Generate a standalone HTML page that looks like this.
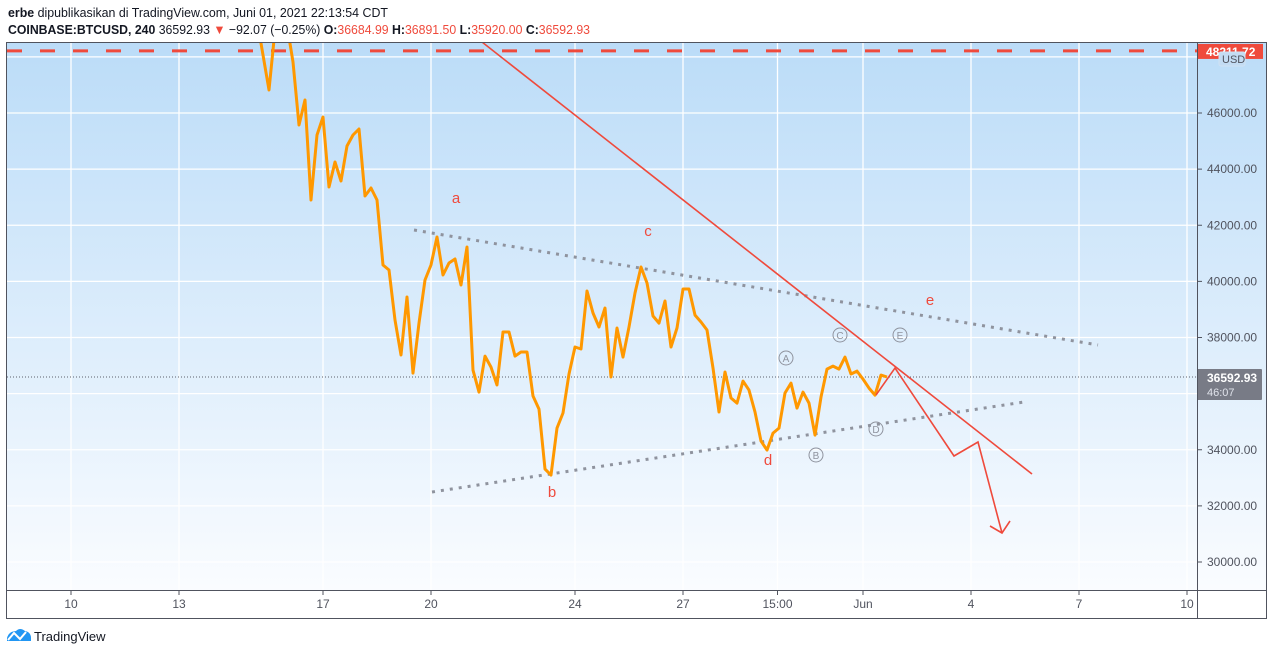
<!DOCTYPE html>
<html><head><meta charset="utf-8">
<style>
body{margin:0;background:#fff;width:1274px;height:655px;overflow:hidden;font-family:"Liberation Sans",sans-serif}
svg text{font-family:"Liberation Sans",sans-serif}
</style></head>
<body>
<svg width="1274" height="655" xmlns="http://www.w3.org/2000/svg">
<defs>
<linearGradient id="bg" x1="0" y1="0" x2="0" y2="1">
<stop offset="0" stop-color="#bbdcf8"/><stop offset="1" stop-color="#fafcff"/>
</linearGradient>
<clipPath id="pc"><rect x="7" y="42" width="1190" height="548"/></clipPath>
</defs>
<text x="8" y="17" font-size="13" fill="#131722" textLength="380" lengthAdjust="spacingAndGlyphs"><tspan font-weight="bold">erbe</tspan> dipublikasikan di TradingView.com, Juni 01, 2021 22:13:54 CDT</text>
<text x="8" y="34" font-size="13" fill="#131722" textLength="582" lengthAdjust="spacingAndGlyphs"><tspan font-weight="bold">COINBASE:BTCUSD, 240</tspan> 36592.93 <tspan fill="#ef4a3c">▼</tspan> −92.07 (−0.25%) <tspan font-weight="bold">O:</tspan><tspan fill="#ef4a3c">36684.99</tspan> <tspan font-weight="bold">H:</tspan><tspan fill="#ef4a3c">36891.50</tspan> <tspan font-weight="bold">L:</tspan><tspan fill="#ef4a3c">35920.00</tspan> <tspan font-weight="bold">C:</tspan><tspan fill="#ef4a3c">36592.93</tspan></text>
<rect x="7" y="42" width="1260" height="548" fill="url(#bg)"/>
<g id="grid"></g>
<g id="marks" clip-path="url(#pc)"></g>
<g id="axes"></g>
<rect x="6.5" y="42.5" width="1260" height="576" fill="none" stroke="#50535e" stroke-width="1"/>
<line x1="7" y1="590.5" x2="1267" y2="590.5" stroke="#50535e"/>
<line x1="1197.5" y1="42" x2="1197.5" y2="618" stroke="#50535e"/>
<g>
<path d="M7,641 L7,638 Q9,631 16,631 Q20,627 25,631 Q31,632 31,638 L31,641 Z" fill="#2196f3"/>
<polyline points="8,640 14,633 20,639 26,632" fill="none" stroke="#fff" stroke-width="2"/>
<text x="34" y="641" font-size="13" fill="#131722">TradingView</text>
</g>
</svg>
<script>
const startHour = 124; // hours after May 10 00:00
const prices = [49314,48067,46819,48958,49314,49136,47817,45572,46463,42899,45216,45857,43362,44253,43576,44824,45216,45429,43042,43327,42899,40582,40404,38622,37375,39442,36733,38515,40048,40582,41580,40226,40654,40796,39870,41224,36840,36056,37339,36947,36306,38195,38195,37339,37482,37482,35914,35450,33312,33098,34773,35308,36698,37660,37589,39656,38872,38373,39050,36591,38337,37303,38373,39585,40511,39941,38765,38515,39300,37660,38337,39727,39727,38800,38551,38266,36912,35344,36770,35843,35664,36448,36127,35344,34310,33989,34595,34773,36021,36377,35486,36056,35664,34524,35878,36875,36982,36875,37303,36698,36804,36519,36198,35949,36662,36593];
const priceTicks = [30000,32000,34000,36000,38000,40000,42000,44000,46000,48000];
const timeTickDays = [0,3,7,10,14,17,19.625,22,25,28,31];
const timeTickLabels = ["10","13","17","20","24","27","15:00","Jun","4","7","10"];
const lastPrice = 36592.93;
const lineLevel = 48211.72;
const NS="http://www.w3.org/2000/svg";
const yS = p => 113 + (46000 - p) * 0.028063;
const xD = d => 71 + d * 36;
const xH = h => xD(h / 24);
function mk(tag, attrs, parent, txt){const e=document.createElementNS(NS,tag);for(const k in attrs)e.setAttribute(k,attrs[k]);if(txt!==undefined)e.textContent=txt;parent.appendChild(e);return e;}
const grid=document.getElementById('grid'), marks=document.getElementById('marks'), axes=document.getElementById('axes');
priceTicks.forEach(p=>{
  const l=mk('line',{x1:7,x2:1197,y1:yS(p),y2:yS(p),stroke:'#fff','stroke-width':1.3},grid);
  
  
  if(p<48000){
    const t=mk('line',{x1:1197,x2:1202,y1:yS(p),y2:yS(p),stroke:'#50535e'},axes);
    
    
    const tx=mk('text',{x:1207,y:yS(p)+4,'font-size':12,fill:'#50535e'},axes,p.toFixed(2));
    
    
  }
});
timeTickDays.forEach((d,i)=>{
  const x=xD(d);
  const l=mk('line',{x1:x,x2:x,y1:42,y2:590,stroke:'#fff','stroke-width':1.3},grid);
  
  
  const t=mk('line',{x1:x,x2:x,y1:590,y2:595,stroke:'#50535e'},axes);
  
  
  const tx=mk('text',{x:x,y:608,'font-size':12,fill:'#50535e','text-anchor':'middle'},axes,timeTickLabels[i]);
  
  
});
let e=mk('line',{x1:7,x2:1197,y1:yS(lineLevel),y2:yS(lineLevel),stroke:'#ef4a3c','stroke-width':3,'stroke-dasharray':'15 18'},marks);


e=mk('line',{x1:7,x2:1197,y1:yS(lastPrice),y2:yS(lastPrice),stroke:'#5d606b','stroke-width':1,'stroke-dasharray':'1 2'},marks);


e=mk('line',{x1:414,y1:230,x2:1098,y2:345,stroke:'#8f939e','stroke-width':3,'stroke-dasharray':'3 6'},marks);


e=mk('line',{x1:432,y1:492,x2:1024,y2:402,stroke:'#8f939e','stroke-width':3,'stroke-dasharray':'3 6'},marks);


const pts=prices.map((p,i)=>xH(startHour+i*4).toFixed(1)+','+yS(p).toFixed(1)).join(' ');
e=mk('polyline',{points:pts,fill:'none',stroke:'#ff9800','stroke-width':3,'stroke-linejoin':'round'},marks);


e=mk('line',{x1:482,y1:42,x2:1032,y2:474,stroke:'#ef4a3c','stroke-width':1.6},marks);


e=mk('polyline',{points:'876,395 895,368 954,456 978,442 1002,533',fill:'none',stroke:'#ef4a3c','stroke-width':1.6},marks);


e=mk('polyline',{points:'990,526 1002,533 1010,521',fill:'none',stroke:'#ef4a3c','stroke-width':1.6},marks);


[['a',456,203],['b',552,497],['c',648,236],['d',768,465],['e',930,305]].forEach(w=>{
  const t=mk('text',{x:w[1],y:w[2],'font-size':15,fill:'#ef4a3c','text-anchor':'middle'},marks,w[0]);
  
  
});
[['A',786,358],['B',816,455],['C',840,335],['D',876,429],['E',900,335]].forEach(w=>{
  const c=mk('circle',{cx:w[1],cy:w[2],r:7,fill:'none',stroke:'#8f939e','stroke-width':1},marks);
  
  
  const t=mk('text',{x:w[1],y:w[2]+4,'font-size':10,fill:'#8f939e','text-anchor':'middle'},marks,w[0]);
  
  
});
e=mk('rect',{x:1197,y:yS(lineLevel)-7,width:66,height:15,fill:'#ef4a3c'},axes);


e=mk('text',{x:1206,y:yS(lineLevel)+5,'font-size':12,fill:'#fff','font-weight':'bold'},axes,lineLevel.toFixed(2));


e=mk('rect',{x:1219,y:52,width:26,height:14,rx:2,fill:'#c3dcf3',stroke:'#d0e2f3'},axes);


e=mk('text',{x:1222,y:63,'font-size':11,fill:'#50535e'},axes,'USD');


const ly=yS(lastPrice);
e=mk('rect',{x:1197,y:ly-8,width:65,height:31,rx:1,fill:'#787b86'},axes);


e=mk('text',{x:1207,y:ly+5,'font-size':12,fill:'#fff','font-weight':'bold'},axes,lastPrice.toFixed(2));


e=mk('text',{x:1207,y:ly+19,'font-size':11,fill:'#e0e3eb'},axes,'46:07');


</script>
</body></html>
